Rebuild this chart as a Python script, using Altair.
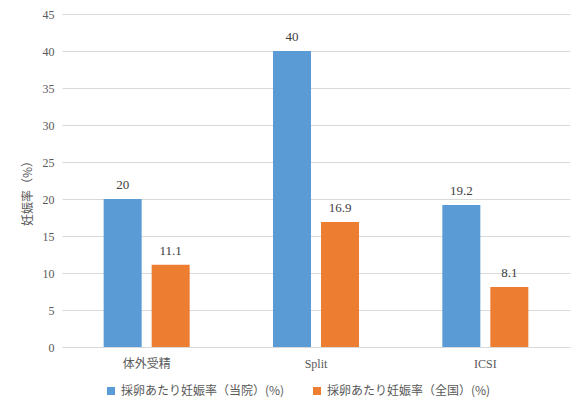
import altair as alt
import pandas as pd

categories = ["体外受精", "Split", "ICSI"]
series = ["採卵あたり妊娠率（当院）(%)", "採卵あたり妊娠率（全国）(%)"]
values_clinic = [20, 40, 19.2]
values_national = [11.1, 16.9, 8.1]
colors = ["#5B9BD5", "#ED7D31"]

rows = []
for c, a, b in zip(categories, values_clinic, values_national):
    rows.append({"cat": c, "series": series[0], "value": a})
    rows.append({"cat": c, "series": series[1], "value": b})
df = pd.DataFrame(rows)

FONT = "'Liberation Serif', 'Noto Sans CJK JP'"

x = alt.X("cat:N", sort=categories, title=None,
          scale=alt.Scale(paddingInner=0, paddingOuter=0),
          axis=alt.Axis(labelAngle=0, ticks=False, domainColor="#d9d9d9",
                        labelColor="#595959", labelFont=FONT, labelFontSize=12,
                        labelPadding=11))
xo = alt.XOffset("series:N", sort=series,
                 scale=alt.Scale(paddingInner=0.2083, paddingOuter=0.8677))
y = alt.Y("value:Q", title="妊娠率（%）",
          scale=alt.Scale(domain=[0, 45]),
          axis=alt.Axis(values=list(range(0, 50, 5)), grid=True, gridColor="#d9d9d9",
                        domain=False, ticks=False, labelColor="#595959",
                        labelFont=FONT, labelFontSize=12, labelPadding=8,
                        titleFont="Noto Sans CJK JP", titleFontSize=12,
                        titleFontWeight="normal", titleColor="#595959",
                        titleX=-28, titleY=176))

base = alt.Chart(df).encode(x=x, xOffset=xo, y=y)

bars = base.mark_bar().encode(
    color=alt.Color("series:N", sort=series,
                    scale=alt.Scale(domain=series, range=colors),
                    legend=alt.Legend(title=None, orient="none", direction="horizontal",
                                      legendX=43, legendY=371,
                                      symbolType="square", symbolSize=64,
                                      symbolStrokeWidth=0,
                                      labelFont="Noto Sans CJK JP", labelFontSize=12,
                                      labelColor="#595959", columnPadding=26,
                                      labelLimit=300)),
)

labels = base.mark_text(baseline="bottom", dy=-7, font=FONT, fontWeight="normal",
                        fontSize=13, color="#404040").encode(
    text=alt.Text("value:Q"),
)

chart = alt.layer(bars, labels).properties(
    width=508, height=333,
    padding={"left": 54, "top": 6, "right": 7, "bottom": 56},
    autosize=alt.AutoSizeParams(type="none"),
).configure(background="white").configure_view(stroke=None)

chart.save("out.html", embed_options={"renderer": "svg", "actions": False})
